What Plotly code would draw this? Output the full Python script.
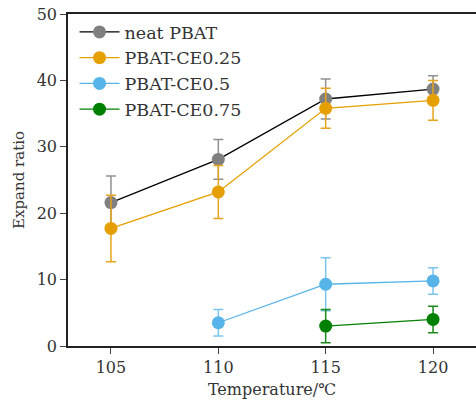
import plotly.graph_objects as go

temps = [105, 110, 115, 120]
series_names = ["neat PBAT", "PBAT-CE0.25", "PBAT-CE0.5", "PBAT-CE0.75"]
neat_x = [105, 110, 115, 120]
neat_y = [21.6, 28.1, 37.2, 38.7]
neat_err = [4.0, 3.0, 3.0, 2.0]
ce025_x = [105, 110, 115, 120]
ce025_y = [17.7, 23.2, 35.8, 37.0]
ce025_err = [5.0, 4.0, 3.0, 3.0]
ce05_x = [110, 115, 120]
ce05_y = [3.5, 9.3, 9.8]
ce05_err = [2.0, 4.0, 2.0]
ce075_x = [115, 120]
ce075_y = [3.0, 4.0]
ce075_err = [2.5, 2.0]

styles = [
    ("#000000", "#808080", "#909090"),
    ("#E69F00", "#E69F00", "#E6A41A"),
    ("#56B4E9", "#56B4E9", "#7CC4EE"),
    ("#008000", "#008000", "#1A8A1A"),
]
data = [(neat_x, neat_y, neat_err), (ce025_x, ce025_y, ce025_err),
        (ce05_x, ce05_y, ce05_err), (ce075_x, ce075_y, ce075_err)]

fig = go.Figure()
for name, (xs, ys, es), (lc, mc, ec) in zip(series_names, data, styles):
    fig.add_trace(go.Scatter(
        x=xs, y=ys, name=name, mode="lines+markers",
        line=dict(color=lc, width=1.3),
        marker=dict(color=mc, size=13),
        error_y=dict(type="data", array=es, visible=True, color=ec, thickness=1.5, width=5),
    ))

font = "DejaVu Serif, serif"
fig.update_layout(
    width=476, height=400,
    margin=dict(l=68, r=0, t=14, b=54),
    paper_bgcolor="white", plot_bgcolor="white",
    font=dict(family=font, size=16, color="#333"),
    showlegend=True,
    legend=dict(x=0.016, y=1.0, xanchor="left", yanchor="top",
                bgcolor="rgba(0,0,0,0)", font=dict(size=17.5), tracegroupgap=0,
                itemwidth=40),
    xaxis=dict(range=[103, 122], tickvals=temps, ticks="outside", ticklen=6,
               showline=True, linecolor="#222", linewidth=1.5, mirror=True,
               showgrid=False, zeroline=False,
               title=dict(text="Temperature/℃", font=dict(size=16), standoff=8),
               tickfont=dict(size=16)),
    yaxis=dict(range=[0, 50], tickvals=[0, 10, 20, 30, 40, 50], ticks="outside", ticklen=6,
               showline=True, linecolor="#222", linewidth=1.5, mirror=False,
               showgrid=False, zeroline=False,
               title=dict(text="Expand ratio", font=dict(size=15), standoff=8),
               tickfont=dict(size=16)),
)
fig.write_html("out.html")
